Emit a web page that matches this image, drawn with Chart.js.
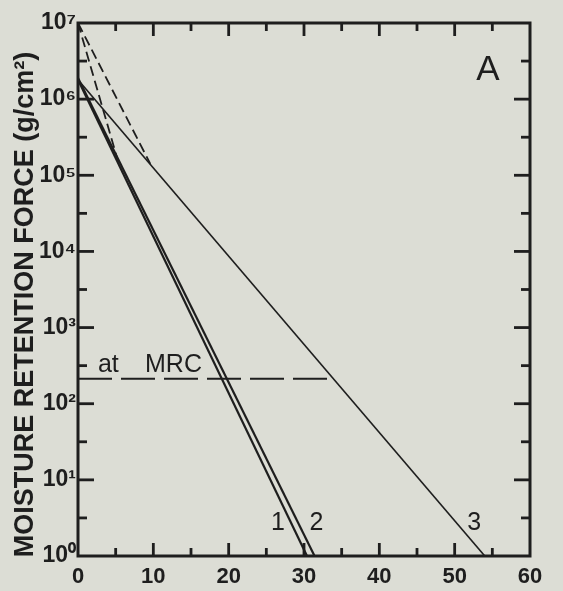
<!DOCTYPE html>
<html><head><meta charset="utf-8">
<script src="https://cdn.jsdelivr.net/npm/chart.js@4"></script>
<style>html,body{margin:0;padding:0;background:#dcddd5;overflow:hidden}#wrap{position:relative;width:563px;height:591px}</style>
</head><body><div id="wrap"><canvas id="c" width="563" height="591" style="width:563px;height:591px"></canvas></div>
<script>
// ---- data ----
const xTicks = [0, 10, 20, 30, 40, 50, 60];
const yDecades = [0, 1, 2, 3, 4, 5, 6, 7];
const line1X = [0, 30.4];  const line1Y = [1.8e6, 1];
const line2X = [0, 31.4];  const line2Y = [1.9e6, 1];
const line3X = [0, 54.0];  const line3Y = [1.8e6, 1];
const dashAX = [0, 5.5];   const dashAY = [1e7, 1.32e5];
const dashBX = [0, 9.6];   const dashBY = [1e7, 1.41e5];
const mrcX = [0, 34];      const mrcY = [213, 213];
const curveNames = ['1', '2', '3'];
const panelName = 'A';
const mrcWords = ['at', 'MRC'];
const yTitle = 'MOISTURE RETENTION FORCE (g/cm²)';

const INK = '#1e1e1e', BG = '#dcddd5';
const sup = ['⁰','¹','²','³','⁴','⁵','⁶','⁷'];
const pts = (xs, ys) => xs.map((v, i) => ({x: v, y: ys[i]}));

Chart.defaults.font.family = 'Liberation Sans';
Chart.defaults.color = INK;

const deco = {
  id: 'deco',
  beforeDraw(chart) {
    const c = chart.ctx; c.save(); c.fillStyle = BG; c.fillRect(0, 0, chart.width, chart.height); c.restore();
  },
  afterDatasetsDraw(chart) {
    const {ctx: c, chartArea: a, scales: {x, y}} = chart;
    c.save();
    c.strokeStyle = INK; c.fillStyle = INK; c.lineCap = 'butt';
    const seg = (x1, y1, x2, y2) => { c.beginPath(); c.moveTo(x1, y1); c.lineTo(x2, y2); c.stroke(); };
    c.lineWidth = 2.8;
    for (let v = 5; v < 60; v += 5) {
      const px = x.getPixelForValue(v), L = v % 10 === 0 ? 13 : 8;
      seg(px, a.bottom, px, a.bottom - L); seg(px, a.top, px, a.top + L);
    }
    for (let k = 1; k < 14; k++) {
      const py = y.getPixelForValue(Math.pow(10, k / 2)), L = k % 2 === 0 ? 16 : 9;
      seg(a.left, py, a.left + L, py); seg(a.right, py, a.right - L, py);
    }
    c.lineWidth = 3;
    c.strokeRect(a.left, a.top, a.right - a.left, a.bottom - a.top);
    // text annotations
    c.textBaseline = 'alphabetic';
    c.font = '25px "Liberation Sans"'; c.textAlign = 'center';
    const lx = [26.55, 31.66, 52.6];
    curveNames.forEach((t, i) => c.fillText(t, x.getPixelForValue(lx[i]), y.getPixelForValue(2.2)));
    c.textAlign = 'left';
    c.fillText(mrcWords[0], x.getPixelForValue(2.65), y.getPixelForValue(260));
    c.fillText(mrcWords[1], x.getPixelForValue(8.9), y.getPixelForValue(260));
    c.font = '35px "Liberation Sans"'; c.textAlign = 'center';
    c.fillText(panelName, x.getPixelForValue(54.4), y.getPixelForValue(1.78e6));
    c.restore();
  }
};

new Chart(document.getElementById('c'), {
  type: 'scatter',
  data: {
    datasets: [
      {data: pts(line1X, line1Y), borderWidth: 2.2},
      {data: pts(line2X, line2Y), borderWidth: 2.2},
      {data: pts(line3X, line3Y), borderWidth: 1.6},
      {data: pts(dashAX, dashAY), borderWidth: 1.8, borderDash: [10, 5]},
      {data: pts(dashBX, dashBY), borderWidth: 1.8, borderDash: [10, 5]},
      {data: pts(mrcX, mrcY), borderWidth: 2, borderDash: [34, 9]}
    ].map(d => Object.assign({showLine: true, pointRadius: 0, borderColor: INK, backgroundColor: INK, tension: 0}, d))
  },
  options: {
    responsive: false, animation: false, devicePixelRatio: 1,
    layout: {padding: {top: 23, right: 33, left: 0, bottom: 0}},
    plugins: {legend: {display: false}, tooltip: {enabled: false}},
    scales: {
      x: {
        type: 'linear', min: 0, max: 60,
        afterBuildTicks: s => { s.ticks = xTicks.map(v => ({value: v})); },
        afterFit: s => { s.height = 35; },
        grid: {display: false, drawTicks: false}, border: {display: false},
        ticks: {font: {size: 22, weight: 'bold'}, padding: 8, maxRotation: 0, color: INK}
      },
      y: {
        type: 'logarithmic', min: 1, max: 1e7,
        afterBuildTicks: s => { s.ticks = yDecades.map(e => ({value: Math.pow(10, e)})); },
        afterFit: s => { s.width = 78; },
        grid: {display: false, drawTicks: false}, border: {display: false},
        ticks: {font: {size: 23, weight: 'bold'}, padding: 2, color: INK,
          callback: v => '10' + sup[Math.round(Math.log10(v))]},
        title: {display: true, text: yTitle + '    ', font: {size: 27, weight: 'bold'}, color: INK, padding: {top: 9, bottom: 0}}
      }
    }
  },
  plugins: [deco]
});
</script></body></html>
